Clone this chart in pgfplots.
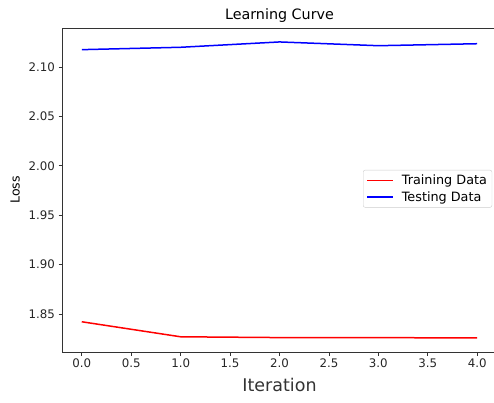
\documentclass[border=0pt]{standalone}
\usepackage{pgfplots}
\pgfplotsset{compat=1.18}
\usepackage{fontspec}
\setmainfont{DejaVu Sans}
\begin{document}
\begin{tikzpicture}[x=1pt,y=1pt]
\useasboundingbox (0,0) rectangle (494,-402);
\begin{axis}[
  at={(62pt,-352pt)}, anchor=south west,
  scale only axis, width=435pt, height=324pt,
  xmin=-0.2, xmax=4.2, ymin=1.8116, ymax=2.1394,
  xtick={0,0.5,...,4}, ytick={1.85,1.90,...,2.10},
  xticklabel style={/pgf/number format/.cd,fixed,fixed zerofill,precision=1},
  yticklabel style={/pgf/number format/.cd,fixed,fixed zerofill,precision=2},
  /pgf/number format/assume math mode=true,
  ticklabel style={font=\fontsize{11.8}{13}\selectfont, text=black!85},
  tick pos=left, tick align=outside,
  major tick length=3.5pt,
  tick style={black!80, line width=0.8pt},
  axis line style={black!80, line width=0.8pt},
  every axis title shift=0pt,
  title={Learning Curve},
  title style={font=\fontsize{14.3}{16}\selectfont, at={(0.5,1)}, anchor=base, yshift=9pt},
  xlabel={Iteration},
  xlabel style={font=\fontsize{17.5}{19}\selectfont, text=black!80, yshift=-3pt},
  ylabel={Loss},
  ylabel style={font=\fontsize{12.5}{14}\selectfont, yshift=2pt},
  legend style={at={(0.692,0.562)}, anchor=north west, draw=black!20, rounded corners=2pt,
    font=\fontsize{12.8}{15}\selectfont, nodes={font=\fontsize{12.8}{15}\selectfont, inner ysep=2.7pt},
    column sep=6pt, row sep=0pt, inner xsep=3pt, inner ysep=2pt},
  legend cell align=left,
  legend image code/.code={\draw[mark repeat=2,mark phase=2,#1] plot coordinates {(0pt,0pt) (13pt,0pt) (26pt,0pt)};},
]
\addlegendimage{red, line width=1.6pt}
\addlegendentry{Training Data}
\addlegendimage{blue, line width=1.6pt}
\addlegendentry{Testing Data}
\addplot[red, line width=1.5pt, forget plot] coordinates {(0,1.8422) (1,1.8270) (2,1.8262) (3,1.8261) (4,1.8259)};
\addplot[blue, line width=1.5pt, forget plot] coordinates {(0,2.1175) (1,2.1199) (2,2.1253) (3,2.1215) (4,2.1235)};
\end{axis}
\end{tikzpicture}
\end{document}
